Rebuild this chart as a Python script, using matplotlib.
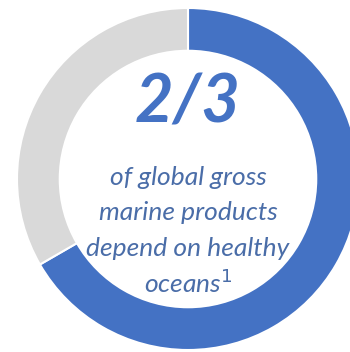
import matplotlib.pyplot as plt

# share of global gross marine products depending on healthy oceans
labels = ['Depend on healthy oceans', 'Other']
shares = [2, 1]
colors = ['#4472C4', '#D9D9D9']

headline = '2/3'
caption = ['of global gross', 'marine products', 'depend on healthy', r'oceans$^{1}$']

fig = plt.figure(figsize=(3.5, 3.52), dpi=100)
ax = fig.add_axes([0, 0, 1, 1])

ax.pie(shares, colors=colors, startangle=90, counterclock=False, radius=1,
       wedgeprops=dict(width=0.25, edgecolor='white', linewidth=1.5))

# the ring is cropped on the right and bottom
cx, cy, r = 188, 179, 171
ax.set_xlim(-cx / r, (350 - cx) / r)
ax.set_ylim(-(352 - cy) / r, cy / r)
ax.set_aspect('auto')
ax.axis('off')

ax.text(0, (cy - 103) / r, headline, ha='center', va='center',
        fontsize=48, fontweight='bold', style='italic', color='#4472C4', family='Lato')

text_color = '#4A6DA8'
for i, line in enumerate(caption):
    y = (cy - (178 + i * 35)) / r
    ax.text(0, y, line, ha='center', va='center', fontsize=19, style='italic',
            color=text_color, family='Lato')

fig.savefig('out.png', dpi=100)
